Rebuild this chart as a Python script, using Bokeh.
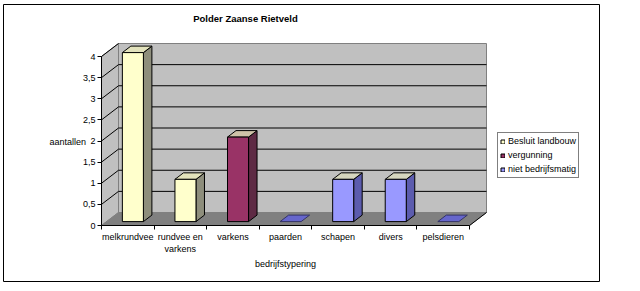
from bokeh.plotting import figure
from bokeh.models import Range1d, FixedTicker, Label, Legend, LegendItem
from bokeh.embed import file_html
from bokeh.resources import INLINE

# ---------------- data ----------------
title = "Polder Zaanse Rietveld"
categories = ["melkrundvee", "rundvee en\nvarkens", "varkens", "paarden", "schapen", "divers", "pelsdieren"]
series_names = ["Besluit landbouw", "vergunning", "niet bedrijfsmatig"]
besluit_landbouw = [4, 1, 0, 0, 0, 0, 0]
vergunning = [0, 0, 2, 0, 0, 0, 0]
niet_bedrijfsmatig = [0, 0, 0, 0, 1, 1, 0]
y_ticks = [0, 0.5, 1, 1.5, 2, 2.5, 3, 3.5, 4]
y_tick_labels = ["0", "0,5", "1", "1,5", "2", "2,5", "3", "3,5", "4"]
x_title = "bedrijfstypering"
y_title = "aantallen"

# ---------------- style ----------------
FONT = "Liberation Sans"
front_colors = ["#FFFFCC", "#993366", "#9999FF"]
side_colors = ["#8E8E7C", "#5E2A44", "#5C5CAE"]
top_colors = ["#E2E2BC", "#CFC2A8", "#D6D6BE"]
flat_color = "#6666CC"

n = len(categories)
ymax = y_ticks[-1]
# pixel geometry of the plot area (origin of the value axes)
ORIGIN_X, ORIGIN_Y = 101, 225
PX_CAT = (469 - 101) / n        # pixels per category
PX_UNIT = (225 - 56) / ymax      # pixels per value unit
DX = 17 / PX_CAT                 # depth offset in x data units
DY = 13 / PX_UNIT                # depth offset in y data units
D0, D1 = 0.3, 0.8                # bar depth position (fraction of full depth)
B0, B1 = 0.3, 0.7                # bar extent inside a category

W, H = 640, 291
BL, BT, BR, BB = 3, 4, 599, 281  # outer chart border = frame


def px2x(px):
    return (px - ORIGIN_X) / PX_CAT


def px2y(py):
    return (ORIGIN_Y - py) / PX_UNIT


p = figure(width=W, height=H, output_backend="svg", toolbar_location=None, title=None,
           x_range=Range1d(px2x(BL), px2x(BR)),
           y_range=Range1d(px2y(BB), px2y(BT)),
           min_border_left=BL, min_border_right=W - BR,
           min_border_top=BT, min_border_bottom=H - BB)
p.outline_line_color = "black"
p.outline_line_width = 1
p.background_fill_color = "white"
p.border_fill_color = "white"
p.xgrid.visible = False
p.ygrid.visible = False

# ---------------- walls ----------------
p.quad(left=[DX], right=[n + DX], bottom=[DY], top=[ymax + DY],
       fill_color="#C0C0C0", line_color="#808080", line_width=1)
p.patch(x=[0, DX, DX, 0], y=[0, DY, ymax + DY, ymax],
        fill_color="#C0C0C0", line_color="#808080", line_width=1)
p.patch(x=[0, n, n + DX, DX], y=[0, 0, DY, DY],
        fill_color="#808080", line_color="#808080", line_width=1)
p.line(x=[n, n + DX], y=[0, DY], line_color="black", line_width=1)
gl_x, gl_y = [], []
for v in y_ticks[1:-1]:
    gl_x.append([0, DX, n + DX])
    gl_y.append([v, v + DY, v + DY])
p.multi_line(xs=gl_x, ys=gl_y, line_color="black", line_width=1)
p.line(x=[0, DX], y=[ymax, ymax + DY], line_color="black", line_width=1)

# ---------------- bars ----------------
series_vals = [besluit_landbouw, vergunning, niet_bedrijfsmatig]
legend_renderers = []
for s, vals in enumerate(series_vals):
    fl, fr, fb, ft = [], [], [], []
    sx, sy, tx, ty = [], [], [], []
    for i in range(n):
        base = sum(series_vals[k][i] for k in range(s))
        v = vals[i]
        if v == 0:
            continue
        x0, x1 = i + B0, i + B1
        y0, y1 = base, base + v
        fl.append(x0 + D0 * DX); fr.append(x1 + D0 * DX)
        fb.append(y0 + D0 * DY); ft.append(y1 + D0 * DY)
        sx.append([x1 + D0 * DX, x1 + D1 * DX, x1 + D1 * DX, x1 + D0 * DX])
        sy.append([y0 + D0 * DY, y0 + D1 * DY, y1 + D1 * DY, y1 + D0 * DY])
        tx.append([x0 + D0 * DX, x1 + D0 * DX, x1 + D1 * DX, x0 + D1 * DX])
        ty.append([y1 + D0 * DY, y1 + D0 * DY, y1 + D1 * DY, y1 + D1 * DY])
    p.patches(xs=sx, ys=sy, fill_color=side_colors[s], line_color="black", line_width=1)
    p.patches(xs=tx, ys=ty, fill_color=top_colors[s], line_color="black", line_width=1)
    r = p.quad(left=fl, right=fr, bottom=fb, top=ft, fill_color=front_colors[s],
               line_color="black", line_width=1)
    legend_renderers.append(r)

zx, zy = [], []
for i in range(n):
    total = sum(series_vals[k][i] for k in range(len(series_vals)))
    if total == 0:
        x0, x1 = i + B0, i + B1
        zx.append([x0 + D0 * DX, x1 + D0 * DX, x1 + D1 * DX, x0 + D1 * DX])
        zy.append([D0 * DY, D0 * DY, D1 * DY, D1 * DY])
p.patches(xs=zx, ys=zy, fill_color=flat_color, line_color="#333366", line_width=1)

# ---------------- axes ----------------
ya = p.yaxis[0]
ya.fixed_location = 0
ya.ticker = FixedTicker(ticks=y_ticks, minor_ticks=[])
ya.major_label_overrides = {t: l for t, l in zip(y_ticks, y_tick_labels)}
ya.bounds = (0, ymax)
ya.major_tick_out = 4
ya.major_tick_in = 0
ya.major_label_standoff = 2
ya.axis_line_color = "black"
ya.major_tick_line_color = "black"
ya.major_label_text_font = FONT
ya.major_label_text_font_size = "9px"
ya.major_label_text_color = "black"

xa = p.xaxis[0]
xa.fixed_location = 0
xa.ticker = FixedTicker(ticks=[i + 0.5 for i in range(n)], minor_ticks=list(range(n + 1)))
xa.major_label_overrides = {i + 0.5: c for i, c in enumerate(categories)}
xa.bounds = (0, n)
xa.major_tick_line_color = None
xa.major_tick_out = 0
xa.major_tick_in = 0
xa.minor_tick_out = 4
xa.minor_tick_in = 0
xa.minor_tick_line_color = "black"
xa.major_label_standoff = 2
xa.axis_line_color = "black"
xa.major_label_text_font = FONT
xa.major_label_text_font_size = "9px"
xa.major_label_text_color = "black"

# ---------------- texts ----------------
p.add_layout(Label(x=px2x(245), y=px2y(18), text=title,
                   text_font=FONT, text_font_size="9.5px", text_font_style="bold",
                   text_align="center", text_baseline="middle", text_color="black"))
p.add_layout(Label(x=px2x(49), y=px2y(141), text=y_title,
                   text_font=FONT, text_font_size="9px",
                   text_align="left", text_baseline="middle", text_color="black"))
p.add_layout(Label(x=n / 2, y=px2y(263), text=x_title,
                   text_font=FONT, text_font_size="9px",
                   text_align="center", text_baseline="middle", text_color="black"))

# ---------------- legend ----------------
legend = Legend(items=[LegendItem(label=nm, renderers=[r]) for nm, r in zip(series_names, legend_renderers)],
                location=(497 - BL, BB - 178),
                glyph_width=5, glyph_height=5, label_height=12, label_standoff=3,
                spacing=2, padding=2, margin=0,
                label_text_font=FONT, label_text_font_size="9px", label_text_color="black",
                border_line_color="black", border_line_width=1,
                background_fill_color="white", background_fill_alpha=1)
p.add_layout(legend, "center")

open("out.html", "w").write(file_html(p, INLINE))
